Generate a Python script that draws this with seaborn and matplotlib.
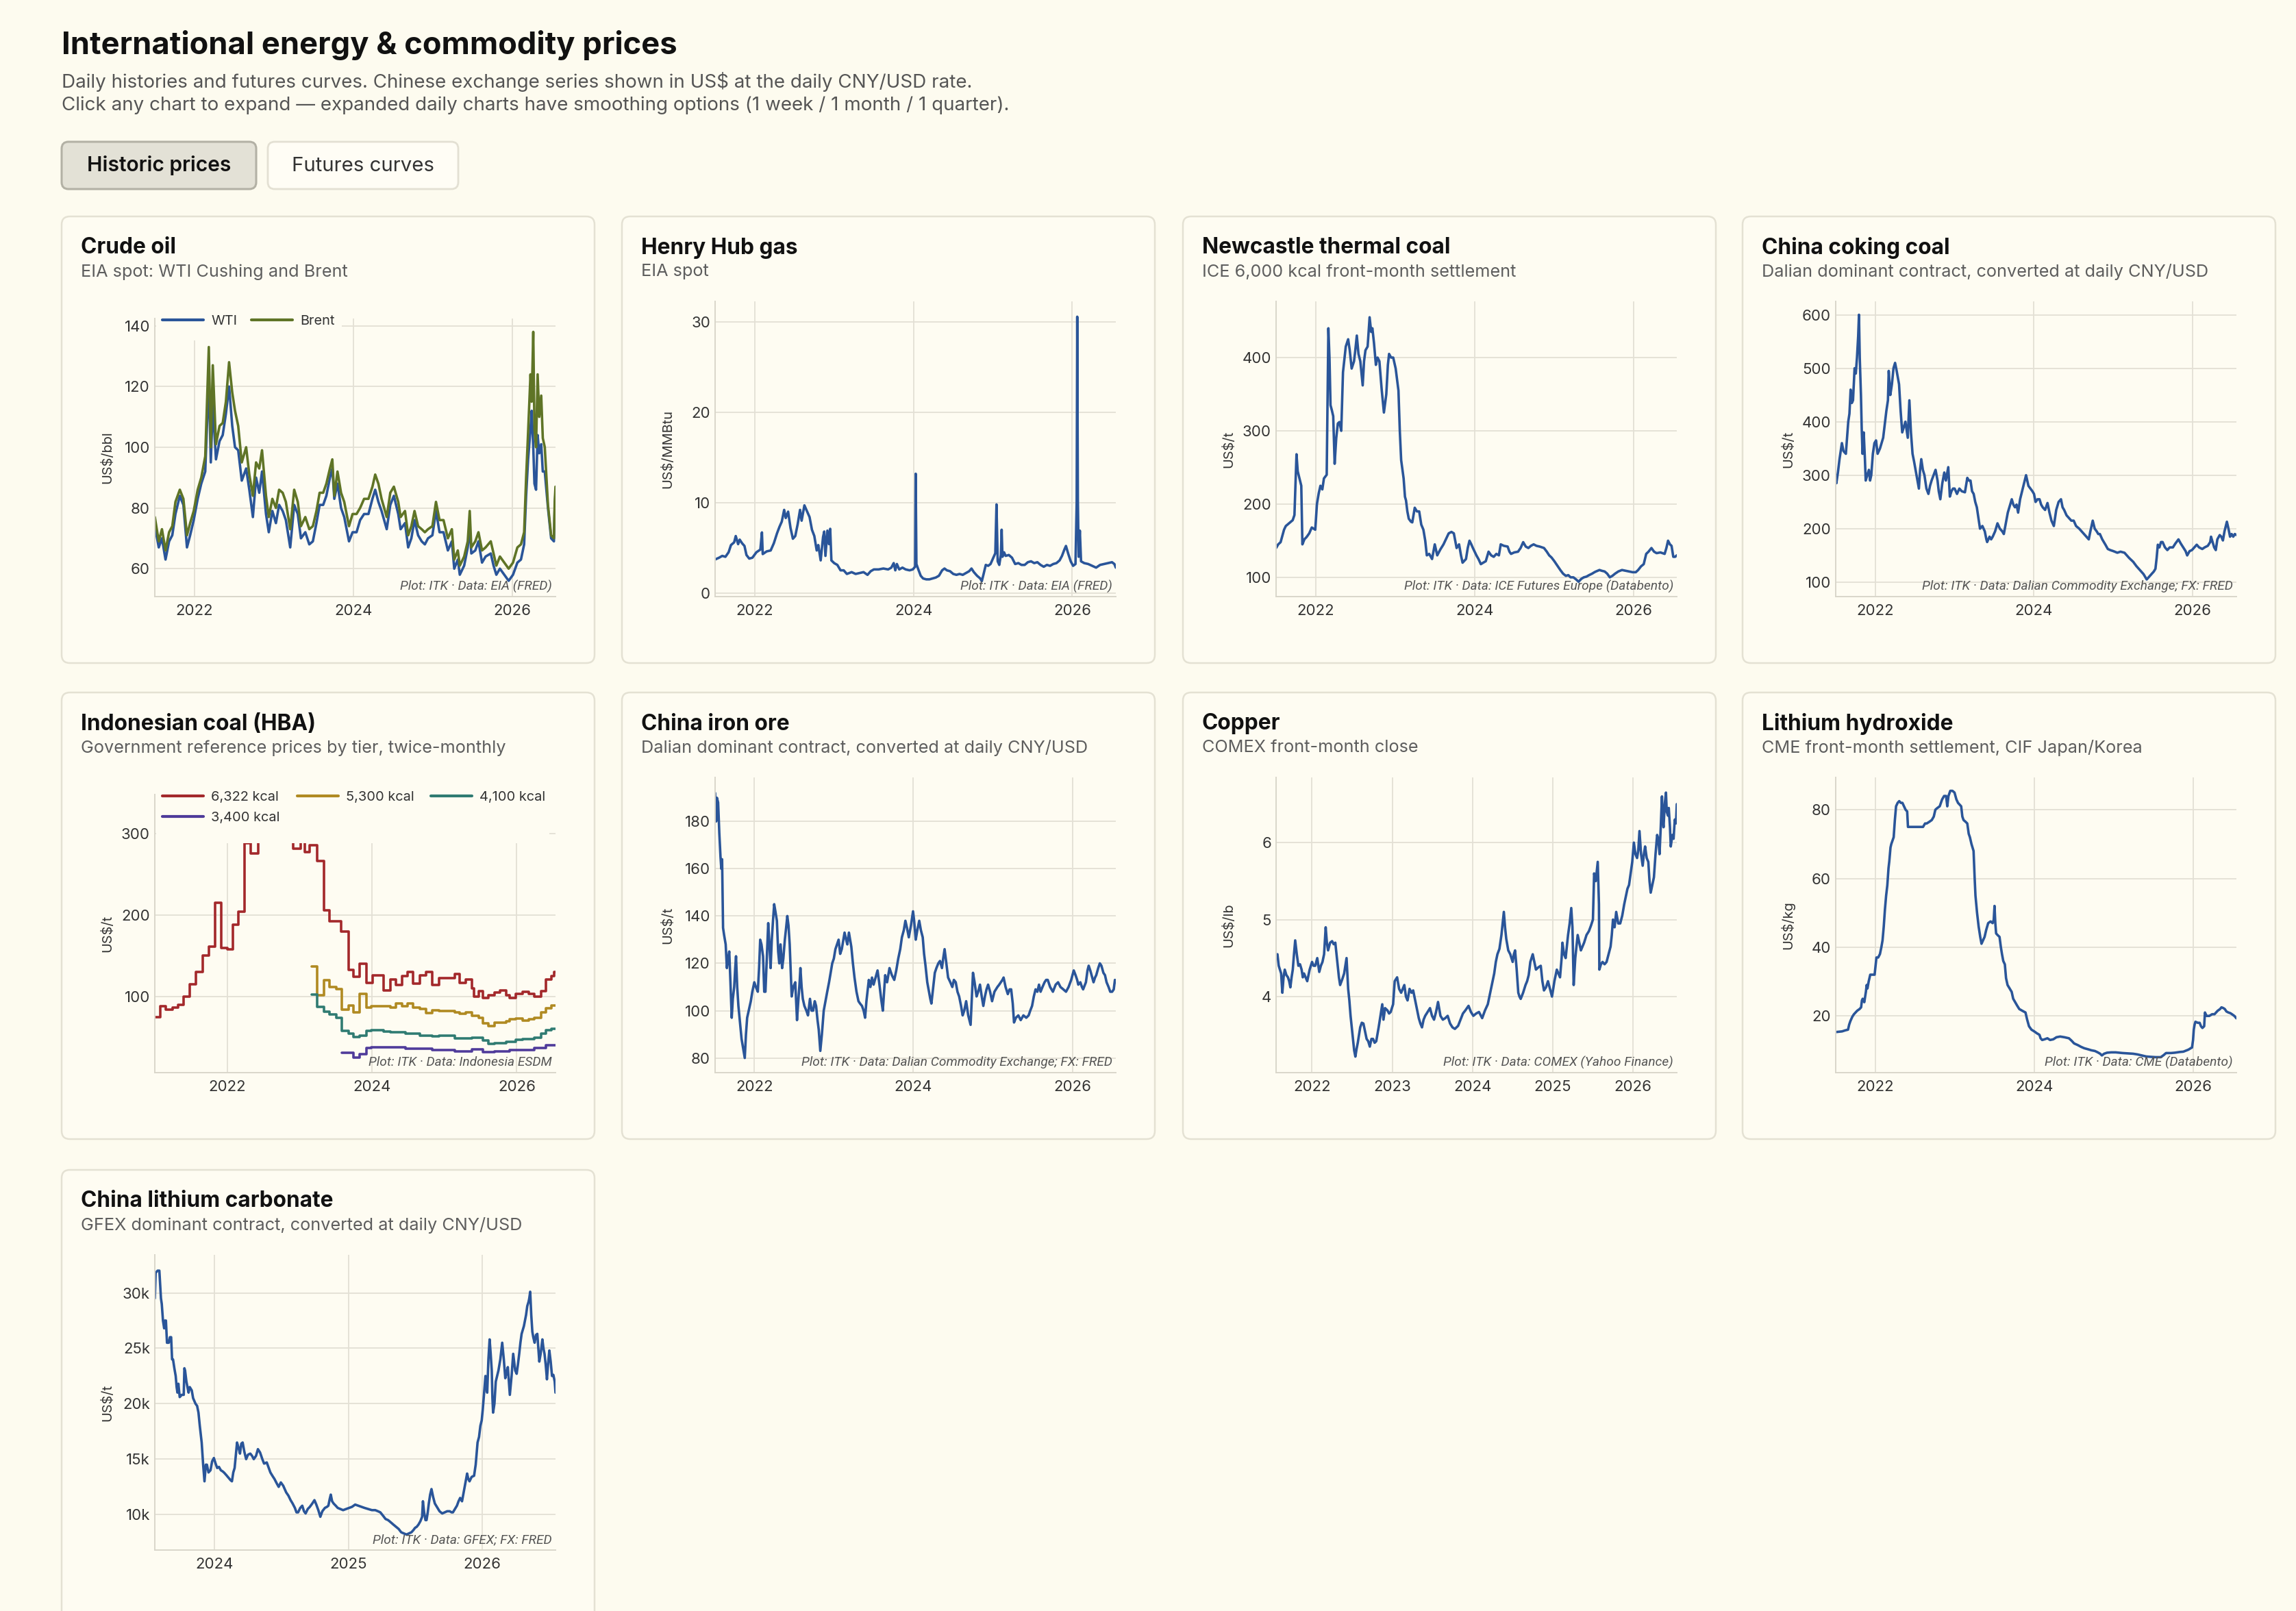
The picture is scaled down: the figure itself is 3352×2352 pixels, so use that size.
import numpy as np
import pandas as pd
import matplotlib.pyplot as plt
import seaborn as sns
from matplotlib.patches import FancyBboxPatch, Rectangle
from matplotlib.lines import Line2D

# ---- data (decimal year, value) ----
crude = [  # t, WTI, Brent
    (2021.50, 74, 77), (2021.55, 67, 69), (2021.59, 70, 73), (2021.635, 63, 66),
    (2021.68, 69, 72), (2021.72, 71, 74), (2021.76, 78, 82), (2021.815, 84, 86),
    (2021.86, 81, 83), (2021.905, 67, 71), (2021.945, 71, 75), (2021.99, 76, 79),
    (2022.04, 83, 86), (2022.085, 88, 90), (2022.135, 92, 97), (2022.18, 123, 133),
    (2022.205, 95, 100), (2022.23, 114, 127), (2022.27, 96, 101), (2022.315, 102, 107),
    (2022.355, 104, 108), (2022.395, 111, 115), (2022.435, 120, 128), (2022.475, 107, 118),
    (2022.51, 100, 112), (2022.55, 99, 107), (2022.595, 89, 95), (2022.65, 93, 100),
    (2022.69, 86, 91), (2022.735, 77, 84), (2022.775, 90, 95), (2022.815, 85, 93),
    (2022.85, 92, 99), (2022.90, 78, 84), (2022.935, 72, 77), (2022.98, 79, 83),
    (2023.025, 75, 80), (2023.065, 81, 86), (2023.11, 79, 85), (2023.15, 76, 82),
    (2023.205, 67, 73), (2023.255, 81, 86), (2023.30, 78, 82), (2023.34, 70, 74),
    (2023.395, 72, 77), (2023.445, 68, 73), (2023.49, 69, 74), (2023.535, 75, 79),
    (2023.575, 81, 85), (2023.62, 81, 85), (2023.66, 84, 88), (2023.705, 90, 93),
    (2023.735, 93, 96), (2023.76, 83, 84), (2023.80, 88, 92), (2023.845, 80, 85),
    (2023.885, 77, 82), (2023.945, 69, 74), (2023.99, 72, 78), (2024.04, 72, 78),
    (2024.085, 76, 80), (2024.135, 78, 83), (2024.19, 78, 83), (2024.24, 83, 87),
    (2024.275, 86, 91), (2024.315, 82, 88), (2024.355, 79, 83), (2024.42, 73, 77),
    (2024.465, 81, 85), (2024.51, 84, 87), (2024.565, 78, 82), (2024.595, 73, 77),
    (2024.65, 75, 79), (2024.69, 67, 71), (2024.73, 70, 74), (2024.77, 76, 79),
    (2024.815, 71, 74), (2024.86, 69, 73), (2024.90, 68, 72), (2024.94, 70, 73),
    (2024.995, 71, 74), (2025.04, 79, 82), (2025.085, 72, 76), (2025.135, 72, 76),
    (2025.19, 66, 70), (2025.24, 69, 73), (2025.27, 60, 63), (2025.315, 63, 66),
    (2025.34, 58, 61), (2025.395, 61, 64), (2025.44, 67, 69), (2025.465, 74, 79),
    (2025.485, 65, 67), (2025.535, 66, 69), (2025.575, 69, 72), (2025.62, 62, 66),
    (2025.665, 64, 67), (2025.73, 65, 69), (2025.765, 61, 65), (2025.80, 58, 61),
    (2025.845, 60, 64), (2025.90, 58, 62), (2025.955, 56, 60), (2026.01, 58, 62),
    (2026.065, 62, 67), (2026.11, 63, 68), (2026.15, 68, 72), (2026.175, 84, 90),
    (2026.20, 96, 105), (2026.23, 106, 124), (2026.245, 112, 115), (2026.265, 100, 138),
    (2026.28, 88, 106), (2026.30, 86, 100), (2026.32, 104, 124), (2026.34, 98, 110),
    (2026.365, 101, 117), (2026.385, 92, 103), (2026.41, 92, 100), (2026.45, 80, 81),
    (2026.49, 70, 71), (2026.525, 69, 70), (2026.535, 80, 82), (2026.545, 85, 87),
]

henry = [
    (2021.50, 3.7), (2021.55, 3.9), (2021.59, 4.1), (2021.63, 4.0), (2021.67, 4.5),
    (2021.70, 5.3), (2021.74, 5.6), (2021.76, 6.3), (2021.79, 5.4), (2021.81, 5.9),
    (2021.84, 5.5), (2021.87, 5.2), (2021.895, 4.2), (2021.93, 3.8), (2021.97, 3.9),
    (2022.02, 4.5), (2022.07, 4.8), (2022.09, 6.7), (2022.10, 4.3), (2022.15, 4.6),
    (2022.20, 4.7), (2022.24, 5.5), (2022.28, 6.6), (2022.31, 7.3), (2022.34, 7.9),
    (2022.37, 9.2), (2022.39, 8.3), (2022.42, 9.0), (2022.45, 7.2), (2022.48, 6.0),
    (2022.51, 6.3), (2022.54, 7.6), (2022.57, 9.2), (2022.59, 8.0), (2022.625, 9.7),
    (2022.66, 9.0), (2022.69, 8.4), (2022.72, 7.0), (2022.75, 6.3), (2022.78, 4.7),
    (2022.80, 5.3), (2022.83, 3.6), (2022.86, 6.2), (2022.875, 6.8), (2022.89, 4.1),
    (2022.915, 6.9), (2022.935, 5.4), (2022.95, 7.1), (2022.965, 3.6), (2023.00, 3.3),
    (2023.04, 3.1), (2023.08, 2.5), (2023.12, 2.5), (2023.16, 2.1), (2023.22, 2.3),
    (2023.27, 2.1), (2023.32, 2.2), (2023.37, 2.3), (2023.42, 2.0), (2023.46, 2.4),
    (2023.50, 2.6), (2023.56, 2.6), (2023.62, 2.7), (2023.68, 2.6), (2023.72, 2.8),
    (2023.75, 3.3), (2023.77, 2.5), (2023.79, 3.2), (2023.82, 2.6), (2023.86, 2.8),
    (2023.90, 2.6), (2023.95, 2.5), (2023.99, 2.6), (2024.02, 2.9), (2024.027, 13.2),
    (2024.036, 3.2), (2024.06, 2.6), (2024.09, 1.9), (2024.12, 1.6), (2024.16, 1.5),
    (2024.20, 1.5), (2024.24, 1.6), (2024.28, 1.7), (2024.32, 1.9), (2024.36, 2.5),
    (2024.39, 2.7), (2024.42, 2.5), (2024.46, 2.4), (2024.50, 2.1), (2024.54, 2.0),
    (2024.58, 2.1), (2024.62, 2.0), (2024.66, 2.2), (2024.70, 2.4), (2024.73, 2.7),
    (2024.76, 2.3), (2024.80, 1.9), (2024.84, 1.6), (2024.86, 1.3), (2024.88, 2.0),
    (2024.91, 3.1), (2024.94, 3.0), (2024.97, 3.2), (2025.00, 3.8), (2025.03, 4.4),
    (2025.045, 9.8), (2025.06, 3.5), (2025.08, 3.1), (2025.10, 4.2), (2025.11, 7.0),
    (2025.12, 4.0), (2025.14, 4.5), (2025.16, 4.1), (2025.20, 4.2), (2025.24, 3.9),
    (2025.28, 3.2), (2025.32, 3.3), (2025.36, 3.1), (2025.40, 3.1), (2025.44, 3.4),
    (2025.48, 3.5), (2025.52, 3.3), (2025.56, 3.4), (2025.60, 3.1), (2025.64, 2.9),
    (2025.68, 3.1), (2025.72, 3.0), (2025.76, 3.2), (2025.80, 3.3), (2025.84, 3.6),
    (2025.87, 4.1), (2025.90, 4.8), (2025.92, 5.2), (2025.95, 4.3), (2025.98, 3.5),
    (2026.01, 3.0), (2026.04, 3.2), (2026.055, 10.0), (2026.062, 30.6), (2026.07, 10.3),
    (2026.08, 4.0), (2026.095, 6.9), (2026.11, 3.5), (2026.15, 3.3), (2026.20, 3.2),
    (2026.25, 3.0), (2026.30, 2.8), (2026.35, 3.1), (2026.40, 3.2), (2026.45, 3.3),
    (2026.50, 3.4), (2026.53, 3.2), (2026.548, 2.8),
]

newcastle = [
    (2021.503, 140), (2021.53, 145), (2021.56, 148), (2021.603, 165), (2021.625, 170),
    (2021.647, 172), (2021.68, 175), (2021.712, 178), (2021.734, 185), (2021.76, 268),
    (2021.775, 245), (2021.786, 240), (2021.82, 225), (2021.834, 145), (2021.86, 152),
    (2021.887, 155), (2021.92, 160), (2021.952, 168), (2021.996, 165), (2022.017, 200),
    (2022.04, 215), (2022.061, 225), (2022.085, 220), (2022.105, 235), (2022.14, 240),
    (2022.161, 440), (2022.175, 400), (2022.188, 335), (2022.205, 328), (2022.222, 320),
    (2022.24, 255), (2022.26, 290), (2022.28, 310), (2022.3, 312), (2022.323, 300),
    (2022.345, 380), (2022.38, 415), (2022.41, 425), (2022.43, 410), (2022.454, 385),
    (2022.484, 395), (2022.5, 410), (2022.519, 430), (2022.54, 405), (2022.563, 395),
    (2022.593, 362), (2022.61, 395), (2022.628, 410), (2022.655, 415), (2022.68, 455),
    (2022.7, 435), (2022.715, 440), (2022.735, 420), (2022.759, 390), (2022.78, 400),
    (2022.803, 395), (2022.833, 355), (2022.86, 325), (2022.89, 350), (2022.91, 390),
    (2022.925, 405), (2022.95, 400), (2022.977, 400), (2023.008, 385), (2023.043, 355),
    (2023.06, 300), (2023.077, 260), (2023.108, 235), (2023.125, 210), (2023.138, 205),
    (2023.155, 190), (2023.173, 180), (2023.2, 176), (2023.217, 175), (2023.248, 195),
    (2023.275, 190), (2023.304, 190), (2023.33, 172), (2023.357, 165), (2023.38, 150),
    (2023.4, 130), (2023.43, 132), (2023.466, 125), (2023.5, 145), (2023.531, 130),
    (2023.57, 138), (2023.61, 145), (2023.64, 152), (2023.675, 160), (2023.71, 162),
    (2023.74, 160), (2023.775, 140), (2023.806, 145), (2023.83, 130), (2023.85, 120),
    (2023.893, 125), (2023.915, 140), (2023.937, 150), (2023.96, 145), (2023.98, 140),
    (2024.024, 130), (2024.05, 125), (2024.08, 118), (2024.11, 120), (2024.142, 122),
    (2024.177, 135), (2024.21, 130), (2024.242, 128), (2024.275, 132), (2024.307, 130),
    (2024.33, 145), (2024.37, 143), (2024.417, 142), (2024.44, 135), (2024.46, 132),
    (2024.5, 134), (2024.548, 135), (2024.58, 140), (2024.613, 148), (2024.645, 142),
    (2024.678, 140), (2024.71, 143), (2024.744, 145), (2024.78, 143), (2024.82, 142),
    (2024.875, 140), (2024.91, 135), (2024.94, 130), (2024.97, 127), (2025.005, 122),
    (2025.03, 118), (2025.049, 115), (2025.08, 110), (2025.115, 105), (2025.15, 102),
    (2025.18, 103), (2025.21, 100), (2025.245, 100), (2025.28, 97), (2025.31, 94),
    (2025.345, 98), (2025.376, 100), (2025.41, 101), (2025.442, 103), (2025.48, 105),
    (2025.51, 107), (2025.529, 108), (2025.573, 110), (2025.6, 109), (2025.638, 108),
    (2025.67, 105), (2025.703, 100), (2025.735, 102), (2025.769, 105), (2025.81, 108),
    (2025.856, 110), (2025.9, 109), (2025.943, 108), (2025.99, 107), (2026.03, 107),
    (2026.06, 110), (2026.096, 115), (2026.13, 118), (2026.161, 132), (2026.19, 135),
    (2026.227, 140), (2026.26, 135), (2026.292, 133), (2026.34, 134), (2026.393, 132),
    (2026.415, 140), (2026.436, 150), (2026.46, 145), (2026.48, 143), (2026.502, 128),
    (2026.525, 128), (2026.546, 130),
]

coking = [
    (2021.502, 300), (2021.51, 285), (2021.53, 305), (2021.55, 330), (2021.58, 360),
    (2021.6, 345), (2021.63, 340), (2021.66, 400), (2021.675, 415), (2021.69, 460),
    (2021.705, 435), (2021.72, 440), (2021.74, 500), (2021.755, 490), (2021.77, 520),
    (2021.785, 560), (2021.795, 600), (2021.805, 520), (2021.82, 450), (2021.83, 385),
    (2021.84, 340), (2021.855, 380), (2021.87, 330), (2021.88, 290), (2021.9, 300),
    (2021.92, 310), (2021.935, 290), (2021.95, 300), (2021.97, 340), (2021.99, 360),
    (2022.01, 365), (2022.03, 340), (2022.06, 350), (2022.08, 360), (2022.1, 370),
    (2022.12, 395), (2022.14, 420), (2022.16, 440), (2022.17, 495), (2022.19, 450),
    (2022.21, 470), (2022.23, 500), (2022.25, 510), (2022.27, 495), (2022.3, 470),
    (2022.32, 420), (2022.34, 380), (2022.36, 390), (2022.38, 400), (2022.41, 370),
    (2022.43, 440), (2022.45, 380), (2022.47, 340), (2022.49, 325), (2022.52, 300),
    (2022.55, 275), (2022.565, 310), (2022.58, 330), (2022.6, 310), (2022.62, 300),
    (2022.645, 275), (2022.67, 265), (2022.69, 280), (2022.71, 290), (2022.735, 300),
    (2022.76, 310), (2022.785, 290), (2022.8, 270), (2022.82, 255), (2022.845, 285),
    (2022.87, 305), (2022.89, 290), (2022.92, 315), (2022.94, 260), (2022.96, 270),
    (2022.98, 275), (2023.0, 275), (2023.03, 265), (2023.06, 275), (2023.09, 270),
    (2023.13, 268), (2023.16, 295), (2023.18, 290), (2023.2, 290), (2023.22, 270),
    (2023.24, 265), (2023.26, 250), (2023.28, 240), (2023.3, 220), (2023.32, 200),
    (2023.35, 205), (2023.38, 195), (2023.4, 180), (2023.41, 175), (2023.44, 185),
    (2023.46, 180), (2023.48, 185), (2023.51, 195), (2023.54, 210), (2023.57, 200),
    (2023.6, 195), (2023.62, 190), (2023.645, 210), (2023.67, 230), (2023.69, 240),
    (2023.72, 255), (2023.74, 245), (2023.76, 240), (2023.78, 245), (2023.8, 230),
    (2023.825, 255), (2023.85, 270), (2023.875, 285), (2023.9, 300), (2023.915, 290),
    (2023.93, 280), (2023.955, 275), (2023.98, 270), (2024.0, 265), (2024.02, 250),
    (2024.045, 255), (2024.07, 255), (2024.09, 245), (2024.11, 240), (2024.14, 235),
    (2024.17, 248), (2024.195, 230), (2024.22, 215), (2024.25, 205), (2024.265, 220),
    (2024.28, 235), (2024.31, 250), (2024.34, 255), (2024.36, 240), (2024.38, 235),
    (2024.41, 225), (2024.44, 220), (2024.47, 215), (2024.5, 215), (2024.53, 205),
    (2024.57, 200), (2024.6, 195), (2024.63, 190), (2024.66, 185), (2024.69, 180),
    (2024.71, 195), (2024.74, 215), (2024.765, 200), (2024.79, 195), (2024.81, 190),
    (2024.83, 190), (2024.86, 180), (2024.9, 170), (2024.93, 162), (2024.96, 160),
    (2025.0, 158), (2025.05, 155), (2025.09, 157), (2025.14, 155), (2025.17, 150),
    (2025.2, 145), (2025.25, 138), (2025.29, 130), (2025.32, 125), (2025.35, 120),
    (2025.38, 115), (2025.42, 105), (2025.45, 110), (2025.48, 115), (2025.51, 120),
    (2025.53, 125), (2025.545, 145), (2025.56, 170), (2025.58, 165), (2025.6, 175),
    (2025.62, 175), (2025.65, 165), (2025.68, 160), (2025.71, 165), (2025.75, 165),
    (2025.78, 172), (2025.82, 180), (2025.85, 172), (2025.88, 165), (2025.91, 158),
    (2025.93, 150), (2025.96, 158), (2025.99, 160), (2026.02, 165), (2026.05, 170),
    (2026.08, 165), (2026.12, 162), (2026.15, 165), (2026.19, 168), (2026.22, 175),
    (2026.23, 185), (2026.25, 175), (2026.27, 165), (2026.29, 160), (2026.31, 180),
    (2026.34, 188), (2026.36, 185), (2026.38, 178), (2026.4, 195), (2026.43, 213),
    (2026.45, 200), (2026.47, 185), (2026.49, 190), (2026.51, 185), (2026.53, 190),
    (2026.55, 188),
]

# Indonesian HBA, step values by tier (start of each period)
hba_6322 = [
    (2021.0, 75), (2021.08, 88), (2021.15, 84), (2021.245, 87), (2021.32, 90),
    (2021.40, 100), (2021.485, 115), (2021.57, 130), (2021.66, 150), (2021.745, 161),
    (2021.83, 215), (2021.915, 160), (2022.0, 158), (2022.08, 188), (2022.155, 204),
    (2022.24, 288), (2022.32, 275), (2022.425, 320), (2022.50, 318), (2022.58, 322),
    (2022.66, 318), (2022.75, 330), (2022.83, 308), (2022.91, 281), (2023.015, 305),
    (2023.075, 277), (2023.135, 285), (2023.24, 266), (2023.335, 206), (2023.41, 192),
    (2023.57, 180), (2023.675, 133), (2023.745, 124), (2023.83, 140), (2023.92, 117),
    (2024.005, 126), (2024.16, 108), (2024.255, 121), (2024.335, 114), (2024.415, 125),
    (2024.495, 130), (2024.565, 116), (2024.66, 126), (2024.75, 130), (2024.83, 114),
    (2024.925, 123), (2025.14, 128), (2025.21, 117), (2025.295, 121), (2025.38, 110),
    (2025.41, 100), (2025.475, 107), (2025.53, 98), (2025.61, 102), (2025.69, 105),
    (2025.77, 108), (2025.855, 102), (2025.905, 98), (2025.99, 103), (2026.085, 106),
    (2026.165, 103), (2026.24, 100), (2026.335, 107), (2026.405, 121), (2026.48, 125),
    (2026.52, 130), (2026.535, 130),
]
hba_5300 = [
    (2023.17, 137), (2023.24, 102), (2023.335, 120), (2023.41, 112), (2023.51, 109.5),
    (2023.585, 84), (2023.68, 89.5), (2023.745, 81), (2023.83, 103.5), (2023.92, 87),
    (2023.99, 88), (2024.16, 88.5), (2024.255, 87), (2024.335, 92), (2024.415, 88.5),
    (2024.495, 92), (2024.565, 87), (2024.66, 85), (2024.75, 80), (2024.83, 83.5),
    (2024.925, 82.5), (2025.14, 80.7), (2025.21, 79), (2025.295, 80.7), (2025.38, 77),
    (2025.475, 73.7), (2025.53, 67.4), (2025.61, 64), (2025.69, 68.4), (2025.855, 70),
    (2025.905, 72), (2025.99, 73), (2026.085, 71), (2026.165, 72), (2026.24, 73.7),
    (2026.335, 80.7), (2026.405, 86), (2026.48, 89.5), (2026.535, 89.5),
]
hba_4100 = [
    (2023.165, 102.5), (2023.24, 87.7), (2023.335, 81.4), (2023.41, 78), (2023.51, 74.4),
    (2023.585, 58), (2023.68, 54.4), (2023.745, 51), (2023.83, 52.6), (2023.92, 58),
    (2023.99, 58.6), (2024.16, 57.2), (2024.255, 56.1), (2024.46, 55), (2024.66, 52.6),
    (2024.83, 51.6), (2024.925, 52), (2025.14, 49), (2025.38, 49.8), (2025.53, 46.3),
    (2025.61, 42), (2025.69, 43.2), (2025.855, 44.9), (2025.99, 47.4), (2026.085, 48.4),
    (2026.24, 49.8), (2026.335, 54.4), (2026.405, 59), (2026.48, 60.7), (2026.535, 60.7),
]
hba_3400 = [
    (2023.585, 31.6), (2023.745, 25.3), (2023.83, 29.8), (2023.92, 36.8), (2023.99, 37.9),
    (2024.46, 36.1), (2024.83, 35), (2025.14, 33.3), (2025.38, 35.8), (2025.53, 32.3),
    (2025.69, 33), (2025.905, 34.4), (2026.085, 35), (2026.24, 36.8), (2026.405, 40.4),
    (2026.535, 40.4),
]

iron = [
    (2021.507, 192), (2021.52, 180), (2021.53, 190), (2021.545, 188), (2021.56, 175),
    (2021.575, 165), (2021.585, 160), (2021.595, 164), (2021.607, 135), (2021.62, 132),
    (2021.64, 128), (2021.655, 118), (2021.67, 122), (2021.685, 125), (2021.70, 112),
    (2021.716, 97), (2021.73, 105), (2021.747, 110), (2021.76, 118), (2021.77, 123),
    (2021.785, 110), (2021.80, 102), (2021.82, 95), (2021.84, 88), (2021.86, 84),
    (2021.88, 80), (2021.895, 90), (2021.91, 97), (2021.93, 100), (2021.956, 104),
    (2021.975, 108), (2022.0, 112), (2022.02, 110), (2022.044, 108), (2022.06, 118),
    (2022.074, 130), (2022.09, 128), (2022.11, 123), (2022.125, 108), (2022.14, 108),
    (2022.16, 125), (2022.175, 137), (2022.19, 128), (2022.205, 118), (2022.22, 130),
    (2022.235, 138), (2022.25, 145), (2022.265, 142), (2022.284, 138), (2022.30, 125),
    (2022.314, 120), (2022.33, 128), (2022.35, 118), (2022.365, 122), (2022.384, 130),
    (2022.40, 135), (2022.415, 140), (2022.43, 136), (2022.445, 128), (2022.46, 115),
    (2022.47, 106), (2022.49, 110), (2022.515, 112), (2022.537, 96), (2022.555, 105),
    (2022.57, 112), (2022.58, 118), (2022.595, 110), (2022.61, 105), (2022.63, 102),
    (2022.655, 100), (2022.675, 98), (2022.70, 105), (2022.72, 100), (2022.74, 100),
    (2022.76, 104), (2022.777, 102), (2022.795, 96), (2022.81, 92), (2022.83, 83),
    (2022.85, 90), (2022.873, 100), (2022.895, 104), (2022.917, 108), (2022.94, 112),
    (2022.96, 116), (2022.98, 120), (2023.0, 122), (2023.02, 126), (2023.04, 128),
    (2023.06, 130), (2023.08, 124), (2023.10, 126), (2023.12, 130), (2023.135, 133),
    (2023.155, 130), (2023.17, 128), (2023.19, 133), (2023.205, 130), (2023.22, 127),
    (2023.24, 120), (2023.26, 114), (2023.285, 108), (2023.31, 104), (2023.33, 103),
    (2023.354, 102), (2023.375, 100), (2023.393, 97), (2023.41, 104), (2023.44, 113),
    (2023.46, 110), (2023.48, 114), (2023.50, 111), (2023.525, 114), (2023.55, 117),
    (2023.57, 112), (2023.595, 105), (2023.616, 100), (2023.63, 107), (2023.646, 115),
    (2023.67, 112), (2023.70, 118), (2023.73, 115), (2023.76, 113), (2023.785, 117),
    (2023.81, 122), (2023.835, 126), (2023.856, 131), (2023.88, 134), (2023.90, 138),
    (2023.92, 135), (2023.943, 131), (2023.97, 136), (2023.996, 142), (2024.01, 138),
    (2024.03, 130), (2024.05, 134), (2024.074, 138), (2024.095, 134), (2024.118, 131),
    (2024.135, 124), (2024.153, 119), (2024.175, 112), (2024.197, 108), (2024.213, 105),
    (2024.227, 103), (2024.25, 110), (2024.27, 116), (2024.29, 118), (2024.314, 120),
    (2024.335, 121), (2024.36, 118), (2024.375, 122), (2024.393, 126), (2024.415, 120),
    (2024.437, 114), (2024.465, 112), (2024.49, 110), (2024.51, 113), (2024.533, 112),
    (2024.555, 108), (2024.576, 106), (2024.60, 102), (2024.62, 98), (2024.64, 100),
    (2024.664, 104), (2024.69, 98), (2024.705, 96), (2024.72, 94), (2024.735, 105),
    (2024.75, 116), (2024.77, 112), (2024.795, 106), (2024.815, 108), (2024.838, 111),
    (2024.86, 106), (2024.88, 102), (2024.90, 106), (2024.92, 109), (2024.94, 111),
    (2024.965, 108), (2024.99, 104), (2025.02, 108), (2025.057, 110), (2025.08, 111),
    (2025.10, 112), (2025.12, 113), (2025.135, 114), (2025.16, 110), (2025.188, 107),
    (2025.21, 109), (2025.23, 109), (2025.25, 103), (2025.266, 95), (2025.29, 97),
    (2025.32, 98), (2025.35, 96), (2025.384, 98), (2025.42, 97), (2025.45, 98),
    (2025.47, 100), (2025.493, 102), (2025.515, 106), (2025.537, 109), (2025.56, 108),
    (2025.58, 111), (2025.60, 108), (2025.624, 110), (2025.65, 112), (2025.67, 113),
    (2025.69, 113), (2025.72, 110), (2025.755, 108), (2025.79, 111), (2025.82, 112),
    (2025.85, 110), (2025.886, 109), (2025.92, 108), (2025.952, 110), (2025.985, 113),
    (2026.017, 117), (2026.04, 115), (2026.06, 113), (2026.074, 111), (2026.10, 112),
    (2026.12, 110), (2026.135, 109), (2026.17, 112), (2026.19, 117), (2026.205, 119),
    (2026.225, 117), (2026.25, 114), (2026.266, 112), (2026.285, 114), (2026.30, 115),
    (2026.325, 118), (2026.345, 120), (2026.365, 119), (2026.39, 116), (2026.41, 115),
    (2026.43, 112), (2026.455, 110), (2026.476, 108), (2026.50, 108), (2026.52, 109),
    (2026.535, 113), (2026.546, 112),
]

copper = [
    (2021.569, 4.55), (2021.585, 4.40), (2021.60, 4.35), (2021.615, 4.30), (2021.63, 4.05),
    (2021.645, 4.25), (2021.66, 4.35), (2021.68, 4.28), (2021.70, 4.25), (2021.715, 4.20),
    (2021.73, 4.12), (2021.745, 4.25), (2021.76, 4.35), (2021.775, 4.55), (2021.79, 4.73),
    (2021.81, 4.55), (2021.83, 4.40), (2021.85, 4.42), (2021.87, 4.35), (2021.885, 4.25),
    (2021.90, 4.30), (2021.92, 4.25), (2021.94, 4.20), (2021.97, 4.35), (2022.0, 4.45),
    (2022.02, 4.40), (2022.04, 4.40), (2022.065, 4.50), (2022.09, 4.32), (2022.11, 4.40),
    (2022.13, 4.45), (2022.15, 4.55), (2022.17, 4.90), (2022.185, 4.70), (2022.20, 4.60),
    (2022.225, 4.70), (2022.25, 4.72), (2022.27, 4.68), (2022.29, 4.70), (2022.305, 4.55),
    (2022.32, 4.40), (2022.335, 4.25), (2022.35, 4.15), (2022.375, 4.22), (2022.40, 4.30),
    (2022.43, 4.50), (2022.45, 4.10), (2022.465, 3.95), (2022.48, 3.75), (2022.495, 3.60),
    (2022.51, 3.45), (2022.525, 3.30), (2022.54, 3.22), (2022.555, 3.32), (2022.57, 3.40),
    (2022.585, 3.50), (2022.60, 3.60), (2022.62, 3.66), (2022.64, 3.65), (2022.66, 3.55),
    (2022.68, 3.45), (2022.70, 3.42), (2022.72, 3.35), (2022.74, 3.45), (2022.76, 3.45),
    (2022.78, 3.40), (2022.80, 3.42), (2022.83, 3.60), (2022.86, 3.80), (2022.875, 3.90),
    (2022.89, 3.70), (2022.91, 3.85), (2022.94, 3.82), (2022.96, 3.78), (2022.98, 3.80),
    (2023.01, 3.90), (2023.03, 4.20), (2023.06, 4.25), (2023.085, 4.10), (2023.11, 4.05),
    (2023.13, 4.10), (2023.15, 4.15), (2023.17, 4.00), (2023.19, 3.95), (2023.215, 4.10),
    (2023.24, 4.05), (2023.26, 4.08), (2023.285, 3.95), (2023.31, 3.82), (2023.33, 3.72),
    (2023.35, 3.65), (2023.37, 3.60), (2023.39, 3.70), (2023.41, 3.75), (2023.44, 3.80),
    (2023.47, 3.85), (2023.495, 3.75), (2023.52, 3.70), (2023.545, 3.80), (2023.57, 3.93),
    (2023.60, 3.75), (2023.63, 3.70), (2023.66, 3.72), (2023.69, 3.75), (2023.72, 3.65),
    (2023.75, 3.60), (2023.78, 3.58), (2023.82, 3.62), (2023.85, 3.70), (2023.88, 3.78),
    (2023.91, 3.82), (2023.95, 3.88), (2023.98, 3.80), (2024.01, 3.75), (2024.045, 3.78),
    (2024.08, 3.80), (2024.10, 3.76), (2024.12, 3.72), (2024.155, 3.82), (2024.19, 3.90),
    (2024.21, 4.00), (2024.23, 4.10), (2024.25, 4.20), (2024.27, 4.30), (2024.29, 4.45),
    (2024.31, 4.55), (2024.335, 4.62), (2024.36, 4.80), (2024.39, 5.10), (2024.405, 4.90),
    (2024.42, 4.75), (2024.445, 4.60), (2024.47, 4.55), (2024.50, 4.45), (2024.515, 4.55),
    (2024.53, 4.60), (2024.55, 4.35), (2024.57, 4.05), (2024.585, 4.00), (2024.60, 3.97),
    (2024.63, 4.05), (2024.66, 4.15), (2024.68, 4.20), (2024.70, 4.28), (2024.72, 4.45),
    (2024.75, 4.55), (2024.77, 4.45), (2024.79, 4.35), (2024.82, 4.38), (2024.85, 4.40),
    (2024.87, 4.20), (2024.89, 4.08), (2024.915, 4.12), (2024.94, 4.20), (2024.965, 4.10),
    (2024.99, 4.00), (2025.02, 4.20), (2025.05, 4.35), (2025.07, 4.30), (2025.09, 4.25),
    (2025.11, 4.50), (2025.12, 4.70), (2025.14, 4.55), (2025.16, 4.50), (2025.175, 4.65),
    (2025.19, 4.80), (2025.21, 4.95), (2025.23, 5.15), (2025.245, 4.90), (2025.26, 4.15),
    (2025.28, 4.50), (2025.31, 4.80), (2025.33, 4.70), (2025.35, 4.60), (2025.37, 4.65),
    (2025.39, 4.70), (2025.42, 4.80), (2025.45, 4.85), (2025.475, 4.92), (2025.50, 5.00),
    (2025.515, 5.60), (2025.535, 5.50), (2025.56, 5.75), (2025.575, 5.20), (2025.58, 4.35),
    (2025.60, 4.42), (2025.62, 4.45), (2025.645, 4.42), (2025.67, 4.45), (2025.695, 4.55),
    (2025.72, 4.65), (2025.735, 4.80), (2025.75, 5.00), (2025.77, 4.90), (2025.79, 5.10),
    (2025.815, 4.95), (2025.84, 4.95), (2025.865, 5.05), (2025.89, 5.20), (2025.91, 5.30),
    (2025.93, 5.40), (2025.95, 5.45), (2025.97, 5.60), (2025.99, 5.75), (2026.01, 6.00),
    (2026.03, 5.85), (2026.05, 5.80), (2026.065, 5.90), (2026.08, 6.15), (2026.10, 5.85),
    (2026.12, 5.70), (2026.135, 5.85), (2026.15, 5.95), (2026.17, 5.80), (2026.19, 5.75),
    (2026.205, 5.50), (2026.22, 5.35), (2026.24, 5.45), (2026.26, 5.55), (2026.28, 5.85),
    (2026.30, 6.10), (2026.315, 6.05), (2026.33, 5.85), (2026.345, 6.20), (2026.36, 6.60),
    (2026.37, 6.30), (2026.38, 6.20), (2026.395, 6.50), (2026.41, 6.65), (2026.42, 6.40),
    (2026.435, 6.35), (2026.445, 6.45), (2026.46, 6.20), (2026.47, 5.95), (2026.49, 6.10),
    (2026.505, 6.05), (2026.52, 6.30), (2026.535, 6.25), (2026.545, 6.50),
]

li_hydroxide = [
    (2021.50, 15.3), (2021.54, 15.4), (2021.58, 15.5), (2021.62, 15.8), (2021.655, 16.0),
    (2021.67, 17.5), (2021.685, 18.5), (2021.71, 19.8), (2021.73, 20.5), (2021.75, 21.0),
    (2021.77, 21.5), (2021.80, 22.0), (2021.82, 22.5), (2021.83, 24.5), (2021.84, 25.0),
    (2021.86, 24.0), (2021.88, 27.0), (2021.89, 29.0), (2021.90, 28.0), (2021.915, 30.0),
    (2021.935, 32.0), (2021.96, 32.0), (2021.99, 32.0), (2022.013, 37.0), (2022.035, 37.0),
    (2022.057, 38.0), (2022.075, 40.0), (2022.09, 42.0), (2022.105, 46.0), (2022.12, 51.0),
    (2022.135, 55.0), (2022.15, 58.0), (2022.165, 63.0), (2022.175, 65.0), (2022.19, 69.0),
    (2022.20, 70.0), (2022.215, 71.0), (2022.23, 72.0), (2022.245, 77.0), (2022.26, 81.0),
    (2022.28, 82.0), (2022.30, 82.5), (2022.32, 82.0), (2022.34, 82.0), (2022.36, 81.0),
    (2022.38, 80.0), (2022.40, 79.5), (2022.41, 75.0), (2022.45, 75.0), (2022.49, 75.0),
    (2022.55, 75.0), (2022.60, 75.0), (2022.625, 76.0), (2022.646, 76.0), (2022.68, 76.5),
    (2022.71, 77.0), (2022.735, 78.0), (2022.755, 80.0), (2022.78, 80.5), (2022.81, 81.0),
    (2022.84, 83.0), (2022.865, 84.0), (2022.89, 84.0), (2022.905, 81.0), (2022.92, 84.0),
    (2022.943, 85.5), (2022.97, 85.5), (2022.996, 85.0), (2023.02, 83.0), (2023.04, 82.0),
    (2023.06, 81.5), (2023.08, 81.0), (2023.095, 78.0), (2023.11, 77.0), (2023.135, 76.5),
    (2023.157, 76.0), (2023.175, 73.0), (2023.19, 72.0), (2023.21, 70.0), (2023.236, 68.0),
    (2023.25, 60.0), (2023.26, 55.0), (2023.28, 50.0), (2023.30, 46.0), (2023.32, 43.0),
    (2023.336, 41.0), (2023.355, 42.0), (2023.375, 43.0), (2023.395, 45.0), (2023.42, 47.0),
    (2023.45, 47.5), (2023.476, 47.0), (2023.49, 48.0), (2023.50, 52.0), (2023.51, 47.0),
    (2023.52, 44.0), (2023.54, 43.5), (2023.563, 43.0), (2023.58, 40.0), (2023.594, 38.0),
    (2023.61, 36.0), (2023.63, 35.0), (2023.645, 31.0), (2023.664, 29.0), (2023.69, 28.0),
    (2023.716, 27.0), (2023.735, 25.0), (2023.76, 24.0), (2023.785, 23.0), (2023.812, 22.0),
    (2023.85, 21.5), (2023.89, 21.0), (2023.91, 19.0), (2023.934, 17.0), (2023.965, 16.0),
    (2024.0, 15.5), (2024.03, 15.0), (2024.066, 14.5), (2024.08, 13.5), (2024.10, 13.0),
    (2024.13, 13.2), (2024.166, 13.5), (2024.20, 13.0), (2024.24, 13.2), (2024.28, 13.8),
    (2024.327, 14.0), (2024.38, 13.8), (2024.437, 13.5), (2024.47, 12.8), (2024.502, 12.0),
    (2024.55, 11.5), (2024.59, 11.0), (2024.63, 10.6), (2024.677, 10.3), (2024.72, 10.0),
    (2024.764, 9.8), (2024.80, 9.4), (2024.83, 9.0), (2024.852, 8.5), (2024.88, 9.0),
    (2024.917, 9.3), (2024.97, 9.4), (2025.026, 9.4), (2025.07, 9.3), (2025.113, 9.2),
    (2025.18, 9.1), (2025.245, 9.0), (2025.30, 8.8), (2025.354, 8.5), (2025.41, 8.2),
    (2025.463, 8.1), (2025.53, 8.0), (2025.594, 8.0), (2025.63, 8.6), (2025.66, 9.2),
    (2025.72, 9.2), (2025.77, 9.3), (2025.83, 9.5), (2025.878, 9.6), (2025.92, 10.0),
    (2025.943, 10.2), (2025.97, 10.6), (2025.987, 10.8), (2026.0, 13.0), (2026.009, 16.0),
    (2026.02, 17.5), (2026.03, 18.3), (2026.06, 18.0), (2026.083, 18.0), (2026.10, 17.0),
    (2026.118, 16.5), (2026.14, 17.0), (2026.15, 21.0), (2026.17, 20.0), (2026.205, 20.0),
    (2026.24, 20.5), (2026.27, 20.5), (2026.29, 21.0), (2026.31, 21.5), (2026.34, 22.0),
    (2026.358, 22.5), (2026.38, 22.3), (2026.40, 22.0), (2026.42, 21.3), (2026.445, 21.0),
    (2026.47, 20.8), (2026.49, 20.5), (2026.52, 20.0), (2026.546, 19.3),
]

li_carbonate_k = [  # thousand US$/t
    (2023.554, 29.5), (2023.56, 31.8), (2023.575, 32.0), (2023.588, 32.0), (2023.60, 29.5),
    (2023.606, 29.0), (2023.615, 27.5), (2023.624, 26.8), (2023.63, 27.5), (2023.637, 27.5),
    (2023.645, 25.5), (2023.658, 25.5), (2023.667, 26.0), (2023.676, 26.0), (2023.683, 24.0),
    (2023.69, 24.0), (2023.70, 23.2), (2023.71, 22.5), (2023.717, 21.5), (2023.723, 21.0),
    (2023.73, 21.8), (2023.74, 20.6), (2023.755, 20.8), (2023.77, 20.8), (2023.775, 23.2),
    (2023.78, 23.0), (2023.79, 22.0), (2023.806, 21.0), (2023.815, 21.5), (2023.83, 21.2),
    (2023.84, 20.5), (2023.858, 20.0), (2023.87, 19.8), (2023.88, 19.2), (2023.89, 18.0),
    (2023.904, 16.5), (2023.915, 14.5), (2023.925, 13.0), (2023.935, 14.5), (2023.943, 14.5),
    (2023.955, 13.8), (2023.97, 14.0), (2023.982, 14.8), (2023.995, 15.1), (2024.008, 14.6),
    (2024.02, 14.2), (2024.033, 14.3), (2024.047, 14.0), (2024.06, 13.9), (2024.07, 13.8),
    (2024.085, 13.6), (2024.106, 13.3), (2024.12, 13.1), (2024.13, 13.0), (2024.14, 13.8),
    (2024.15, 14.2), (2024.16, 15.5), (2024.168, 16.5), (2024.18, 16.0), (2024.19, 15.5),
    (2024.20, 16.4), (2024.21, 16.5), (2024.222, 15.7), (2024.236, 15.0), (2024.25, 15.4),
    (2024.267, 15.5), (2024.28, 15.3), (2024.293, 15.0), (2024.31, 15.3), (2024.324, 15.9),
    (2024.34, 15.6), (2024.357, 15.0), (2024.37, 14.6), (2024.39, 14.7), (2024.405, 14.2),
    (2024.417, 13.8), (2024.432, 13.5), (2024.448, 13.2), (2024.465, 12.8), (2024.479, 12.5),
    (2024.495, 12.9), (2024.513, 12.6), (2024.535, 12.0), (2024.552, 11.7), (2024.568, 11.3),
    (2024.583, 11.0), (2024.60, 10.6), (2024.612, 10.2), (2024.624, 10.2), (2024.64, 10.6),
    (2024.655, 10.8), (2024.668, 10.3), (2024.68, 10.1), (2024.696, 10.5), (2024.712, 10.7),
    (2024.73, 11.0), (2024.746, 11.3), (2024.76, 10.9), (2024.775, 10.4), (2024.79, 9.8),
    (2024.805, 10.3), (2024.824, 10.6), (2024.84, 10.7), (2024.85, 10.8), (2024.86, 11.4),
    (2024.868, 11.8), (2024.878, 11.2), (2024.889, 11.0), (2024.905, 10.8), (2024.92, 10.6),
    (2024.94, 10.5), (2024.96, 10.4), (2024.982, 10.5), (2025.005, 10.6), (2025.027, 10.7),
    (2025.05, 10.9), (2025.073, 10.8), (2025.096, 10.7), (2025.12, 10.6), (2025.148, 10.5),
    (2025.175, 10.4), (2025.20, 10.4), (2025.22, 10.3), (2025.238, 10.2), (2025.258, 9.9),
    (2025.277, 9.6), (2025.296, 9.5), (2025.316, 9.3), (2025.335, 9.1), (2025.355, 8.9),
    (2025.375, 8.7), (2025.394, 8.4), (2025.414, 8.3), (2025.433, 8.2), (2025.452, 8.3),
    (2025.47, 8.4), (2025.485, 8.6), (2025.497, 8.8), (2025.51, 8.9), (2025.523, 9.1),
    (2025.537, 9.4), (2025.55, 9.8), (2025.556, 11.2), (2025.565, 10.2), (2025.575, 9.5),
    (2025.583, 9.5), (2025.592, 10.2), (2025.60, 11.0), (2025.61, 11.8), (2025.62, 12.3),
    (2025.632, 11.6), (2025.645, 11.0), (2025.66, 10.7), (2025.68, 10.3), (2025.70, 10.1),
    (2025.718, 10.2), (2025.737, 10.3), (2025.756, 10.3), (2025.77, 10.2), (2025.78, 10.2),
    (2025.795, 10.5), (2025.81, 10.8), (2025.822, 11.2), (2025.834, 11.5), (2025.848, 11.2),
    (2025.86, 12.0), (2025.872, 12.8), (2025.886, 13.7), (2025.895, 13.2), (2025.904, 13.0),
    (2025.92, 13.4), (2025.938, 13.5), (2025.95, 14.5), (2025.964, 16.5), (2025.975, 17.0),
    (2025.985, 18.0), (2025.995, 18.5), (2026.003, 19.5), (2026.013, 21.0), (2026.023, 22.5),
    (2026.03, 21.5), (2026.036, 21.0), (2026.045, 24.0), (2026.054, 25.8), (2026.062, 24.5),
    (2026.07, 23.0), (2026.075, 20.5), (2026.08, 19.2), (2026.09, 20.0), (2026.10, 22.0),
    (2026.11, 22.5), (2026.12, 23.0), (2026.134, 24.0), (2026.148, 25.5), (2026.16, 24.0),
    (2026.171, 22.3), (2026.18, 22.8), (2026.19, 23.3), (2026.198, 22.0), (2026.205, 20.8),
    (2026.218, 22.5), (2026.23, 24.5), (2026.245, 23.0), (2026.256, 22.7), (2026.265, 23.5),
    (2026.275, 24.5), (2026.284, 25.5), (2026.293, 26.3), (2026.31, 27.0), (2026.326, 28.0),
    (2026.335, 28.8), (2026.345, 29.2), (2026.35, 29.5), (2026.357, 30.1), (2026.365, 28.0),
    (2026.373, 26.5), (2026.38, 26.0), (2026.39, 25.5), (2026.40, 26.2), (2026.41, 26.3),
    (2026.418, 25.0), (2026.425, 23.8), (2026.435, 24.5), (2026.448, 25.8), (2026.456, 25.0),
    (2026.464, 24.5), (2026.473, 23.5), (2026.482, 22.2), (2026.49, 23.5), (2026.50, 24.8),
    (2026.51, 23.8), (2026.52, 22.5), (2026.53, 22.6), (2026.54, 22.0), (2026.546, 21.0),
]

# ---- style ----
W, H, DPI = 3352, 2352, 200
PAGE = "#fdfbef"
CARD = "#fefcf2"
EDGE = "#e4e1d3"
GRID = "#e3e0d5"
AXLINE = "#d9d6ca"
BLUE = "#2a5599"
OLIVE = "#5f7426"
LW = 1.3
HBA_COLORS = {"6,322 kcal": "#a3282b", "5,300 kcal": "#b08a22",
              "4,100 kcal": "#2f7b72", "3,400 kcal": "#4f3b9a"}

sns.set_theme(style="white")
plt.rcParams["font.family"] = ["Inter", "DejaVu Sans"]
plt.rcParams["axes.unicode_minus"] = False

fig = plt.figure(figsize=(W / DPI, H / DPI), dpi=DPI, facecolor=PAGE)


def box(x, y, w, h, fc, ec, lw=0.9, r=0.06):
    p = FancyBboxPatch((x / DPI, (H - y - h) / DPI), w / DPI, h / DPI,
                       boxstyle=f"round,pad=0,rounding_size={r}",
                       transform=fig.dpi_scale_trans, fc=fc, ec=ec, lw=lw, zorder=0)
    fig.add_artist(p)


def ftext(x, y, s, **kw):
    fig.text(x / W, 1 - y / H, s, **kw)


# header
ftext(90, 66, "International energy & commodity prices", fontsize=16.3,
      fontweight="bold", color="#111111", va="center")
ftext(90, 120, "Daily histories and futures curves. Chinese exchange series shown in "
      "US$ at the daily CNY/USD rate.", fontsize=10.0, color="#555555", va="center")
ftext(90, 154, "Click any chart to expand \u2014 expanded daily charts have smoothing "
      "options (1 week / 1 month / 1 quarter).", fontsize=10.0, color="#555555", va="center")
box(90, 207, 284, 69, "#e3e1d6", "#b3b1a5", lw=1.1, r=0.05)
ftext(232, 242, "Historic prices", fontsize=10.8, fontweight="semibold",
      color="#111111", ha="center", va="center")
box(391, 207, 278, 69, "#fffdf5", "#e3e0d3", lw=1.0, r=0.05)
ftext(530, 242, "Futures curves", fontsize=10.6, color="#333333", ha="center", va="center")

COLS = [90, 908, 1727, 2544]
ROWS = [316, 1011, 1708]
CW, CH = 778, 652


def panel(col, row, title, sub, ylabel, credit, top=124):
    cx, cy = COLS[col], ROWS[row]
    box(cx, cy, CW, CH if row < 2 else 760, CARD, EDGE)
    ftext(cx + 28, cy + 46, title, fontsize=11.4, fontweight="bold", color="#111111", va="center")
    ftext(cx + 28, cy + 81, sub, fontsize=9.1, color="#5e5e5e", va="center")
    x0, x1, y0, y1 = cx + 136, cx + 721, cy + top, cy + 555
    ax = fig.add_axes([x0 / W, 1 - y1 / H, (x1 - x0) / W, (y1 - y0) / H])
    ax.set_facecolor("none")
    ax.grid(True, color=GRID, lw=0.65)
    ax.set_axisbelow(True)
    for s in ["top", "right"]:
        ax.spines[s].set_visible(False)
    for s in ["left", "bottom"]:
        ax.spines[s].set_color(AXLINE)
        ax.spines[s].set_linewidth(0.7)
    ax.tick_params(length=0, labelsize=8, labelcolor="#333333")
    ax.tick_params(axis="y", pad=2.5)
    ax.tick_params(axis="x", pad=4)
    ax.annotate(credit, xy=(1, 0), xycoords="axes fraction", xytext=(-1.8, 5.3),
                textcoords="offset points", ha="right", va="center", fontsize=6.9,
                style="italic", color="#555555", family=["Roboto", "DejaVu Sans"])
    ax._lab = (ylabel, x1 - x0)
    return ax


def finish(ax, xlim, ylim, xticks, yticks, ylabels=None):
    ax.set_xlim(*xlim)
    ax.set_ylim(*ylim)
    ax.set_xticks(xticks, labels=[str(t) for t in xticks])
    ax.set_yticks(yticks, labels=ylabels or [f"{v:.0f}" for v in yticks])
    ax.set_xlabel("")
    ylabel, w = ax._lab
    ax.set_ylabel(ylabel, fontsize=7.2, color="#333333")
    ax.yaxis.set_label_coords(-60 / w, 0.5)


def single(ax, pts, color=BLUE):
    t, v = zip(*pts)
    sns.lineplot(x=list(t), y=list(v), ax=ax, color=color, lw=LW,
                 estimator=None, sort=False)
    return t


def cover(ax, xr, yb):
    ax.add_patch(Rectangle((0.003, yb), xr - 0.003, 1 - yb, transform=ax.transAxes,
                           fc=CARD, ec="none", zorder=3))


XT = [2022, 2024, 2026]

# 1 crude
ax = panel(0, 0, "Crude oil", "EIA spot: WTI Cushing and Brent", "US$/bbl",
           "Plot: ITK \u00b7 Data: EIA (FRED)", top=149)
ct, cw, cb = zip(*crude)
crude_df = pd.DataFrame({"t": list(ct) * 2, "price": list(cw) + list(cb),
                         "series": ["WTI"] * len(ct) + ["Brent"] * len(ct)})
sns.lineplot(data=crude_df, x="t", y="price", hue="series", hue_order=["WTI", "Brent"],
             palette={"WTI": BLUE, "Brent": OLIVE}, lw=LW, estimator=None,
             legend=False, ax=ax)
finish(ax, (min(ct), max(ct)), (50.8, 142.4), XT, [60, 80, 100, 120, 140])
cover(ax, 0.467, 0.922)
leg = ax.legend([Line2D([], [], color=BLUE, lw=1.5), Line2D([], [], color=OLIVE, lw=1.5)],
                ["WTI", "Brent"], ncol=2, loc="upper left", bbox_to_anchor=(0.019, 1.013),
                frameon=False, borderpad=0, borderaxespad=0, handlelength=3.0,
                handletextpad=0.55, columnspacing=1.05, fontsize=7.2, labelcolor="#333333")
leg.set_zorder(5)

# 2 henry hub
ax = panel(1, 0, "Henry Hub gas", "EIA spot", "US$/MMBtu", "Plot: ITK \u00b7 Data: EIA (FRED)")
t = single(ax, henry)
finish(ax, (min(t), max(t)), (-0.41, 32.3), XT, [0, 10, 20, 30])

# 3 newcastle
ax = panel(2, 0, "Newcastle thermal coal", "ICE 6,000 kcal front-month settlement", "US$/t",
           "Plot: ITK \u00b7 Data: ICE Futures Europe (Databento)")
t = single(ax, newcastle)
finish(ax, (min(t), max(t)), (73.7, 476.7), XT, [100, 200, 300, 400])

# 4 coking coal
ax = panel(3, 0, "China coking coal", "Dalian dominant contract, converted at daily CNY/USD",
           "US$/t", "Plot: ITK \u00b7 Data: Dalian Commodity Exchange; FX: FRED")
t = single(ax, coking)
finish(ax, (min(t), max(t)), (73, 625), XT, [100, 200, 300, 400, 500, 600])

# 5 HBA
ax = panel(0, 1, "Indonesian coal (HBA)", "Government reference prices by tier, twice-monthly",
           "US$/t", "Plot: ITK \u00b7 Data: Indonesia ESDM", top=149)
frames = []
for name, pts in zip(HBA_COLORS, [hba_6322, hba_5300, hba_4100, hba_3400]):
    ht, hv = zip(*pts)
    frames.append(pd.DataFrame({"t": ht, "price": hv, "tier": name}))
hba_df = pd.concat(frames, ignore_index=True)
sns.lineplot(data=hba_df, x="t", y="price", hue="tier", hue_order=list(HBA_COLORS),
             palette=HBA_COLORS, lw=LW, estimator=None, drawstyle="steps-post",
             legend=False, ax=ax)
finish(ax, (hba_df.t.min(), hba_df.t.max()), (7, 347.4), XT, [100, 200, 300])
cover(ax, 0.985, 0.825)
# legend fills column-wise, so order items to read row-wise
tiers = list(HBA_COLORS)
order = [tiers[0], tiers[3], tiers[1], tiers[2]]
leg = ax.legend([Line2D([], [], color=HBA_COLORS[k], lw=1.5) for k in order], order,
                ncol=3, loc="upper left", bbox_to_anchor=(0.019, 1.012),
                frameon=False, borderpad=0, borderaxespad=0, handlelength=3.0,
                handletextpad=0.55, columnspacing=1.25, labelspacing=0.6, fontsize=7.2,
                labelcolor="#333333")
leg.set_zorder(5)

# 6 iron ore
ax = panel(1, 1, "China iron ore", "Dalian dominant contract, converted at daily CNY/USD",
           "US$/t", "Plot: ITK \u00b7 Data: Dalian Commodity Exchange; FX: FRED")
t = single(ax, iron)
finish(ax, (min(t), max(t)), (73.8, 198.6), XT, [80, 100, 120, 140, 160, 180])

# 7 copper
ax = panel(2, 1, "Copper", "COMEX front-month close", "US$/lb",
           "Plot: ITK \u00b7 Data: COMEX (Yahoo Finance)")
t = single(ax, copper)
finish(ax, (min(t) - 0.017, max(t)), (3.012, 6.847), [2022, 2023, 2024, 2025, 2026], [4, 5, 6])

# 8 lithium hydroxide
ax = panel(3, 1, "Lithium hydroxide", "CME front-month settlement, CIF Japan/Korea", "US$/kg",
           "Plot: ITK \u00b7 Data: CME (Databento)")
t = single(ax, li_hydroxide)
finish(ax, (min(t), max(t)), (3.5, 89.4), XT, [20, 40, 60, 80])

# 9 lithium carbonate
ax = panel(0, 2, "China lithium carbonate", "GFEX dominant contract, converted at daily CNY/USD",
           "US$/t", "Plot: ITK \u00b7 Data: GFEX; FX: FRED")
lt, lk = zip(*li_carbonate_k)
li_carbonate = [(a, b * 1000) for a, b in zip(lt, lk)]
t = single(ax, li_carbonate)
finish(ax, (min(t), max(t)), (6800, 33430), [2024, 2025, 2026],
       [10000, 15000, 20000, 25000, 30000], ["10k", "15k", "20k", "25k", "30k"])

fig.savefig("out.png", dpi=DPI, facecolor=PAGE)
